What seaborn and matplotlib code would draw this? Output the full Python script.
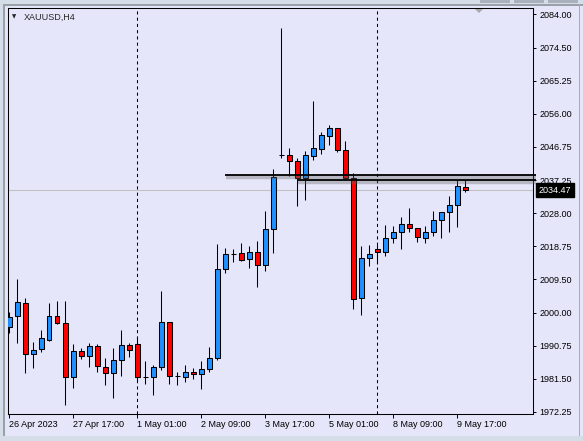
import numpy as np
import pandas as pd
import seaborn as sns
import matplotlib.pyplot as plt
import matplotlib.patheffects as pe
from matplotlib.patches import Rectangle, Polygon
from matplotlib.transforms import blended_transform_factory

# XAUUSD H4 candles, 26 Apr 09:00 -> 9 May 17:00
opens = [1996.1, 1999.1, 2002.7, 1988.4, 1989.8, 1992.5, 1999.1, 1997.1, 1981.9, 1989.2,
         1987.8, 1990.6, 1984.7, 1983.0, 1986.7, 1990.9, 1991.2, 1981.9, 1981.9, 1984.7,
         1997.4, 1982.3, 1981.9, 1983.3, 1982.8, 1984.2, 1987.3, 2012.4, 2016.5, 2016.8,
         2015.1, 2017.0, 2013.4, 2023.5, 2044.3, 2044.3, 2042.6, 2037.9, 2044.0, 2046.0,
         2049.8, 2051.9, 2045.7, 2037.8, 2004.1, 2015.4, 2018.0, 2017.0, 2021.0, 2022.7,
         2024.9, 2023.8, 2021.0, 2022.7, 2026.0, 2028.3, 2030.3, 2035.3]
highs = [2000.2, 2009.5, 2004.1, 1991.8, 1995.1, 2002.7, 2003.3, 2003.3, 1991.2, 1990.1,
         1991.5, 1991.2, 1987.3, 1990.1, 1995.1, 1991.5, 1992.9, 1986.4, 1985.3, 2006.1,
         1997.6, 1983.3, 1985.3, 1984.5, 1986.5, 1990.4, 2019.4, 2018.2, 2018.0, 2019.6,
         2018.7, 2020.1, 2028.6, 2040.4, 2080.1, 2046.4, 2043.5, 2045.5, 2059.6, 2050.8,
         2052.8, 2052.0, 2048.3, 2039.2, 2018.7, 2019.0, 2019.1, 2024.7, 2024.4, 2027.0,
         2029.4, 2023.9, 2024.4, 2028.6, 2028.5, 2032.8, 2037.3, 2037.3]
lows = [1994.5, 1991.5, 1983.2, 1984.6, 1989.1, 1992.2, 1997.0, 1974.1, 1979.0, 1987.0,
        1984.9, 1983.5, 1979.8, 1976.0, 1982.2, 1987.5, 1980.9, 1980.0, 1977.0, 1984.0,
        1980.0, 1979.7, 1980.7, 1981.4, 1978.6, 1983.3, 1986.8, 2011.3, 2014.2, 2014.5,
        2012.6, 2007.4, 2011.9, 2016.9, 2043.5, 2038.6, 2030.1, 2031.7, 2042.9, 2044.8,
        2047.3, 2045.3, 2037.6, 2001.2, 1999.5, 2013.3, 2014.1, 2016.0, 2019.7, 2017.9,
        2022.8, 2020.0, 2019.6, 2021.6, 2021.2, 2022.8, 2024.2, 2033.9]
closes = [1998.8, 2003.0, 1988.4, 1989.5, 1992.9, 1999.1, 1997.1, 1981.9, 1989.2, 1987.8,
          1990.6, 1985.0, 1983.0, 1986.7, 1990.9, 1989.5, 1981.9, 1982.1, 1984.7, 1997.4,
          1982.2, 1982.4, 1983.3, 1982.8, 1984.2, 1987.3, 2012.4, 2016.5, 2016.6, 2014.9,
          2017.0, 2013.4, 2023.5, 2038.3, 2044.5, 2042.6, 2037.9, 2044.3, 2046.3, 2049.9,
          2051.9, 2045.7, 2037.8, 2003.8, 2015.4, 2016.5, 2017.0, 2021.0, 2022.7, 2024.9,
          2023.8, 2021.3, 2022.7, 2026.0, 2028.3, 2030.3, 2035.6, 2034.47]

# time axis labels (one every 8 bars) and week separators
time_tick_bars = [0, 8, 16, 24, 32, 40, 48, 56]
time_tick_labels = ["26 Apr 2023", "27 Apr 17:00", "1 May 01:00", "2 May 09:00",
                    "3 May 17:00", "5 May 01:00", "8 May 09:00", "9 May 17:00"]
separator_bars = [16, 46]

price_ticks = [2084.00, 2074.50, 2065.25, 2056.00, 2046.75, 2037.25, 2028.00,
               2018.75, 2009.50, 2000.00, 1990.75, 1981.50, 1972.25]

# drawn horizontal levels: price and first bar
level_prices = [2038.7, 2037.4]
level_start_bars = [27, 36]

df = pd.DataFrame({"open": opens, "high": highs, "low": lows, "close": closes})
df["bar"] = np.arange(len(df))
df["bull"] = df["close"] >= df["open"]

sns.set_style("ticks", {"axes.facecolor": "#E6E6FA", "axes.edgecolor": "black",
                        "xtick.color": "black", "ytick.color": "black", "axes.grid": False})
plt.rcParams["font.family"] = ["Liberation Sans", "DejaVu Sans"]

W, H = 583, 441
BG = "#E6E6FA"
fig = plt.figure(figsize=(W / 100, H / 100), dpi=100, facecolor=BG)
ax = fig.add_axes([8 / W, 1 - 414 / H, (533 - 8) / W, (414 - 8) / H])


def box(x0, y0, x1, y1, color):
    fig.add_artist(Rectangle((x0 / W, 1 - y1 / H), (x1 - x0) / W, (y1 - y0) / H,
                             transform=fig.transFigure, facecolor=color,
                             edgecolor="none", zorder=0))


# window frame around the chart
box(0, 0, W, 4, "#D5DEE8")
box(0, 4, W, 6, "#9AA0A8")
box(0, 0, 3, H, "#D5DEE8")
box(3, 4, 5, 436, "#9AA0A8")
box(0, 436, W, H, "#D5DEE8")
box(579, 4, 580, 436, "#A8ADB4")
for bx in (480, 514, 548):
    box(bx, 0, bx + 30, 3, "#A9B2BC")

# wicks and bodies
ax.vlines(df["bar"], df["low"], df["high"], color="black", lw=0.75, zorder=2)
ax.bar(df["bar"], (df["close"] - df["open"]).abs(),
       bottom=df[["open", "close"]].min(axis=1), width=0.55,
       color=np.where(df["bull"], "#1E90FF", "#FF0000"),
       edgecolor="black", linewidth=0.75, zorder=3)

# current price line and week separators
ax.axhline(closes[-1], color="#C0C0C0", lw=0.75, zorder=1)
for b in separator_bars:
    ax.axvline(b, color="black", lw=0.75, ls=(0, (3, 3)), zorder=1.5)

# drawn levels with their soft shadow
right_end = 65.8
for price, start in zip(level_prices, level_start_bars):
    ax.plot([start, right_end], [price, price], color="black", lw=1.3, zorder=4,
            solid_capstyle="butt", clip_on=False,
            path_effects=[pe.SimpleLineShadow(offset=(0.3, -1.6), shadow_color="#606060",
                                              alpha=0.35, linewidth=3.2), pe.Normal()])

ax.set_xlim(-0.1625, 65.4625)
ax.set_ylim(1971.61, 2085.69)

ax.yaxis.tick_right()
ax.set_yticks(price_ticks)
ax.set_yticklabels([f"{v:.2f}" for v in price_ticks])
ax.set_xticks(time_tick_bars)
ax.set_xticklabels(time_tick_labels, ha="left")
ax.tick_params(axis="y", length=2.5, width=0.7, pad=2, labelsize=6.5)
ax.tick_params(axis="x", length=3, width=0.7, pad=1.5, labelsize=6.5)
for s in ax.spines.values():
    s.set_linewidth(0.75)
ax.set_xlabel("")
ax.set_ylabel("")

# last price tag on the scale
ax.annotate(f"{closes[-1]:.2f}", xy=(1, closes[-1]),
            xycoords=blended_transform_factory(ax.transAxes, ax.transData),
            xytext=(4.3, 0), textcoords="offset points", ha="left", va="center",
            color="white", fontsize=6.5, annotation_clip=False,
            bbox=dict(boxstyle="square,pad=0.3", fc="black", ec="black"))

# symbol caption and chart-shift marker
fig.text(14.5 / W, 1 - 16.5 / H, "\u25bc", fontsize=4, family="DejaVu Sans",
         ha="center", va="center")
fig.text(24 / W, 1 - 17 / H, "XAUUSD,H4", fontsize=6.5, ha="left", va="center")
fig.add_artist(Polygon([(475 / W, 1 - 9 / H), (483 / W, 1 - 9 / H), (479 / W, 1 - 13 / H)],
                       closed=True, transform=fig.transFigure, facecolor="#A8A8A8",
                       edgecolor="none"))

fig.savefig("out.png", dpi=100, facecolor=BG)
